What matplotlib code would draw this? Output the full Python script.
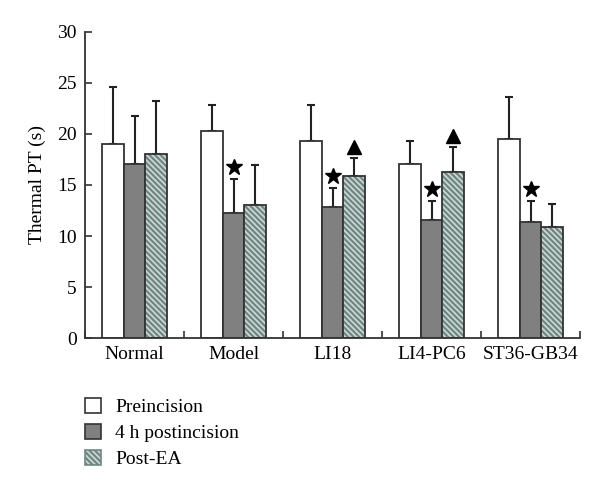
import numpy as np
import matplotlib
matplotlib.use("Agg")
import matplotlib.pyplot as plt
from matplotlib.patches import Patch

# data
groups = ["Normal", "Model", "LI18", "LI4-PC6", "ST36-GB34"]
series = ["Preincision", "4 h postincision", "Post-EA"]
pre = [19.0, 20.3, 19.35, 17.1, 19.5]
pre_err = [5.6, 2.5, 3.45, 2.25, 4.1]
post = [17.1, 12.25, 12.85, 11.6, 11.4]
post_err = [4.7, 3.35, 1.85, 1.8, 2.0]
ea = [18.0, 13.0, 15.9, 16.3, 10.9]
ea_err = [5.2, 4.0, 1.7, 2.4, 2.2]
star_groups = [1, 2, 3, 4]      # star over 4 h postincision bar
tri_groups = [2, 3]             # triangle over Post-EA bar

plt.rcParams['font.family'] = ['Liberation Serif', 'DejaVu Serif']
plt.rcParams['font.size'] = 14

fig = plt.figure(figsize=(6, 4.9), dpi=100)
ax = fig.add_axes([0.1417, 0.3102, 0.825, 0.6245])

x = np.arange(len(groups))
w = 0.22
edge = '#333333'
hatch_face = '#cfd9d6'
hatch_line = '#6f8783'
hatch = '\\' * 6

ax.bar(x - w, pre, w, color='white', edgecolor=edge, linewidth=1.3, zorder=2)
ax.bar(x, post, w, color='#808080', edgecolor=edge, linewidth=1.3, zorder=2)
plt.rcParams['hatch.linewidth'] = 1.6
ax.bar(x + w, ea, w, color=hatch_face, edgecolor=hatch_line, hatch=hatch, linewidth=0, zorder=2)
ax.bar(x + w, ea, w, color='none', edgecolor=edge, linewidth=1.3, zorder=3)

zeros = np.zeros(len(groups))
for off, vals, errs in [(-w, pre, pre_err), (0, post, post_err), (w, ea, ea_err)]:
    ax.errorbar(x + off, vals, yerr=[zeros, errs], fmt='none', ecolor='#222222',
                elinewidth=1.5, capsize=3, capthick=1.5, zorder=1)

for g in star_groups:
    ax.plot(x[g], post[g] + post_err[g] + 1.2, marker='*', color='black',
            markersize=12, linestyle='none', zorder=4)
for g in tri_groups:
    ax.plot(x[g] + w, ea[g] + ea_err[g] + 1.1, marker='^', color='black',
            markersize=10, linestyle='none', zorder=4)

ax.set_xlim(-0.5, len(groups) - 0.5)
ax.set_ylim(0, 30)
ax.set_yticks(range(0, 31, 5))
ax.set_xticks(x)
ax.set_xticklabels(groups)
ax.set_xticks(np.arange(-0.5, len(groups), 1.0), minor=True)
ax.tick_params(axis='x', which='major', length=0, pad=6)
ax.tick_params(axis='x', which='minor', direction='in', length=5, width=1.2, color='#333333')
ax.tick_params(axis='y', direction='in', length=5, width=1.2, color='#333333', pad=6)
ax.set_ylabel('Thermal PT (s)', labelpad=8)
for s in ['top', 'right']:
    ax.spines[s].set_visible(False)
for s in ['left', 'bottom']:
    ax.spines[s].set_linewidth(1.3)
    ax.spines[s].set_color('#333333')

handles = [
    Patch(facecolor='white', edgecolor=edge, linewidth=1.2),
    Patch(facecolor='#808080', edgecolor=edge, linewidth=1.2),
    Patch(facecolor=hatch_face, edgecolor=hatch_line, hatch=hatch, linewidth=1.2),
]
fig.legend(handles, series, loc='upper left', bbox_to_anchor=(0.142, 0.188),
           frameon=False, handlelength=0.8, handleheight=0.8, handletextpad=0.75,
           labelspacing=0.4, borderpad=0, borderaxespad=0)

fig.savefig('out.png', dpi=100)
